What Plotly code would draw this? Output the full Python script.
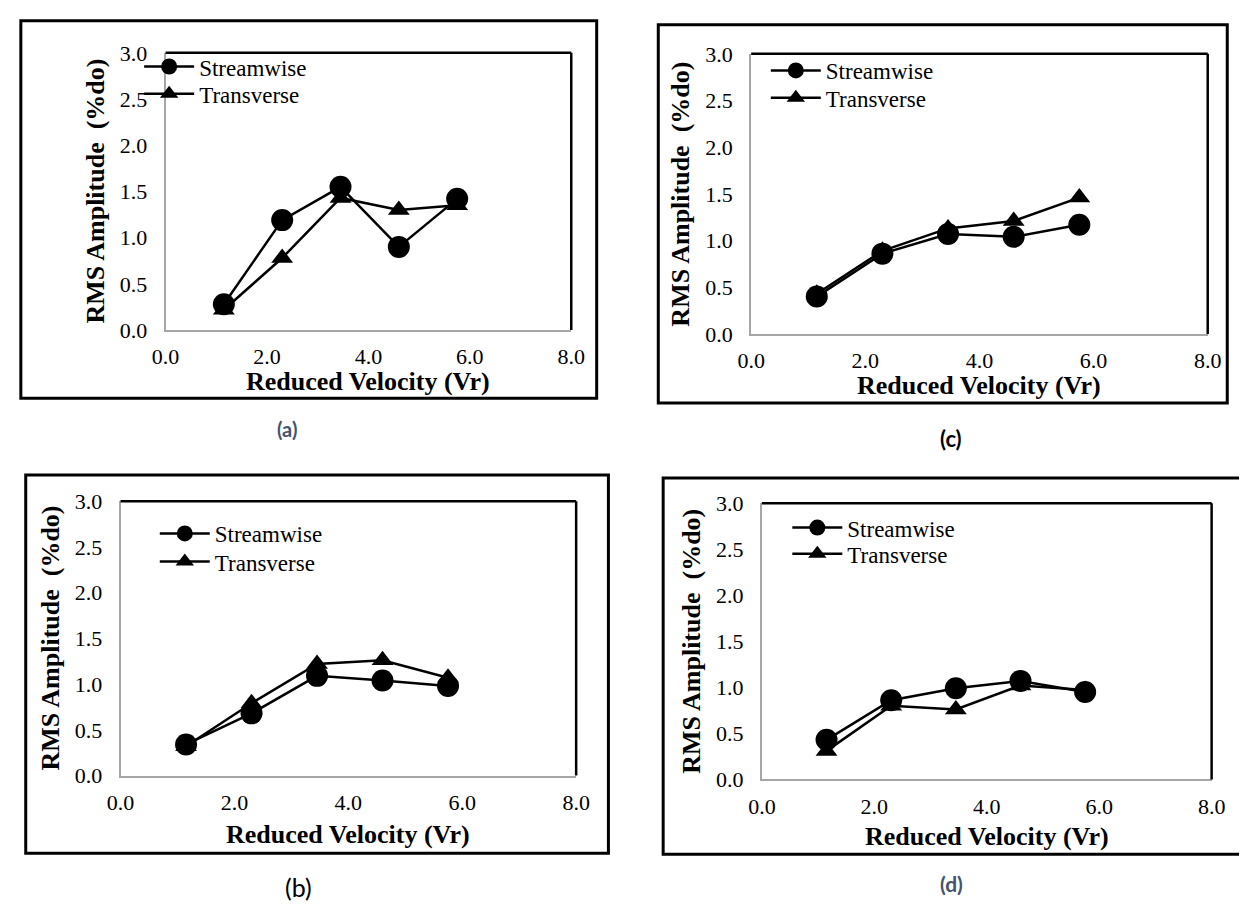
import plotly.graph_objects as go

# ---------------- data ----------------
vr = [1.15, 2.3, 3.45, 4.6, 5.75]

a_stream = [0.28, 1.19, 1.55, 0.90, 1.42]
a_trans = [0.22, 0.78, 1.43, 1.30, 1.35]

b_stream = [0.34, 0.68, 1.09, 1.04, 0.98]
b_trans = [0.32, 0.79, 1.22, 1.26, 1.07]

c_stream = [0.40, 0.86, 1.07, 1.04, 1.17]
c_trans = [0.43, 0.89, 1.13, 1.21, 1.46]

d_stream = [0.43, 0.86, 0.99, 1.07, 0.95]
d_trans = [0.31, 0.80, 0.76, 1.02, 0.97]

series_names = ["Streamwise", "Transverse"]
x_title = "Reduced Velocity (Vr)"
y_title = "RMS Amplitude\u00a0 (%do)"
x_ticks = [0, 2, 4, 6, 8]
y_ticks = [0, 0.5, 1.0, 1.5, 2.0, 2.5, 3.0]

W, H = 1253, 914
SERIF = "Liberation Serif"

# panel geometry in pixels
panels = [
    dict(s=a_stream, t=a_trans, plot=(155, 570, 42, 327), frame=(7, 596, 9, 397, True),
         leg=(128, 34, 62), xt=53, lab=("(a)", 279, 429, 20, "#44546A", True)),
    dict(s=c_stream, t=c_trans, plot=(754, 1221, 43, 331), frame=(659, 1241, 13, 402, True),
         leg=(769, 38, 66), xt=53, lab=("(c)", 958, 438, 22, "#000000", True)),
    dict(s=b_stream, t=b_trans, plot=(109, 575, 503, 785), frame=(12, 608, 476, 865, True),
         leg=(144, 514, 543), xt=61, lab=("(b)", 291, 900, 25, "#000000", False)),
    dict(s=d_stream, t=d_trans, plot=(765, 1225, 505, 789), frame=(664, 1253, 479, 866, False),
         leg=(791, 508, 535), xt=59, lab=("(d)", 959, 896, 21, "#44546A", True)),
]

def px(x):
    return x / W

def py(y):
    return 1 - y / H

fig = go.Figure()
shapes = []
annotations = []
layout = {}
leg_n = 0

for i, p in enumerate(panels, start=1):
    xa = "x" if i == 1 else f"x{i}"
    ya = "y" if i == 1 else f"y{i}"
    l, r, t, b = p["plot"]
    lx, ly1, ly2 = p["leg"]

    specs = [
        (p["s"], series_names[0], "circle", 22, ly1),
        (p["t"], series_names[1], "triangle-up", 19, ly2),
    ]
    for vals, name, sym, size, legy in specs:
        leg_n += 1
        leg = "legend" if leg_n == 1 else f"legend{leg_n}"
        fig.add_trace(go.Scatter(
            x=vr, y=vals, name=name, mode="lines+markers",
            xaxis=xa, yaxis=ya, legend=leg,
            line=dict(color="black", width=2.5),
            marker=dict(symbol=sym, size=size, color="black"),
        ))
        layout[leg] = dict(
            x=px(lx), y=py(legy), xref="paper", yref="paper",
            xanchor="left", yanchor="top",
            bgcolor="rgba(0,0,0,0)", borderwidth=0, itemwidth=50,
            font=dict(family=SERIF, size=23, color="black"),
        )

    xkey = "xaxis" if i == 1 else f"xaxis{i}"
    ykey = "yaxis" if i == 1 else f"yaxis{i}"
    layout[xkey] = dict(
        domain=[px(l), px(r)], anchor=ya, range=[0, 8], tickvals=x_ticks,
        tickformat=".1f", showgrid=False, zeroline=False, ticks="",
        showline=True, linecolor="#A6A6A6", linewidth=2,
        tickfont=dict(family=SERIF, size=22, color="black"),
        ticklabelstandoff=6, fixedrange=True,
    )
    layout[ykey] = dict(
        domain=[py(b), py(t)], anchor=xa, range=[0, 3], tickvals=y_ticks,
        tickformat=".1f", showgrid=False, zeroline=False, ticks="",
        showline=True, linecolor="#A6A6A6", linewidth=2,
        tickfont=dict(family=SERIF, size=22, color="black"),
        ticklabelstandoff=12, fixedrange=True,
    )

    # plot-area top and right border (black)
    shapes.append(dict(type="line", xref=f"{xa} domain", yref=f"{ya} domain",
                       x0=0, x1=1, y0=1, y1=1, line=dict(color="black", width=2.5)))
    shapes.append(dict(type="line", xref=f"{xa} domain", yref=f"{ya} domain",
                       x0=1, x1=1, y0=0, y1=1, line=dict(color="black", width=2.5)))
    # outer frame (the last one is cut by the right edge of the picture)
    fl, fr, ft, fb, closed = p["frame"]
    if closed:
        shapes.append(dict(type="rect", xref="paper", yref="paper",
                           x0=px(fl), x1=px(fr), y0=py(fb), y1=py(ft),
                           line=dict(color="black", width=3), fillcolor="rgba(0,0,0,0)"))
    else:
        path = (f"M {px(fr)},{py(ft)} L {px(fl)},{py(ft)} "
                f"L {px(fl)},{py(fb)} L {px(fr)},{py(fb)}")
        shapes.append(dict(type="path", xref="paper", yref="paper", path=path,
                           line=dict(color="black", width=3)))

    # axis titles
    annotations.append(dict(text=f"<b>{x_title}</b>", xref="paper", yref="paper",
                            x=px((l + r) / 2), y=py(b + p["xt"]), showarrow=False,
                            xanchor="center", yanchor="middle",
                            font=dict(family=SERIF, size=26, color="black")))
    annotations.append(dict(text=f"<b>{y_title}</b>", xref="paper", yref="paper",
                            x=px(l - 72), y=py((t + b) / 2), showarrow=False, textangle=-90,
                            xanchor="center", yanchor="middle",
                            font=dict(family=SERIF, size=26, color="black")))
    # panel label
    txt, lxp, lyp, fs, col, bold = p["lab"]
    annotations.append(dict(text=f"<b>{txt}</b>" if bold else txt, xref="paper", yref="paper",
                            x=px(lxp), y=py(lyp), showarrow=False,
                            xanchor="center", yanchor="middle",
                            font=dict(family="Lato", size=fs, color=col)))

fig.update_layout(
    width=W, height=H, autosize=False,
    margin=dict(l=0, r=0, t=0, b=0, pad=0),
    paper_bgcolor="white", plot_bgcolor="white",
    shapes=shapes, annotations=annotations,
    showlegend=True,
    **layout,
)

fig.write_html("out.html", config={"displayModeBar": False},
               post_script="document.body.style.margin='0px';")
